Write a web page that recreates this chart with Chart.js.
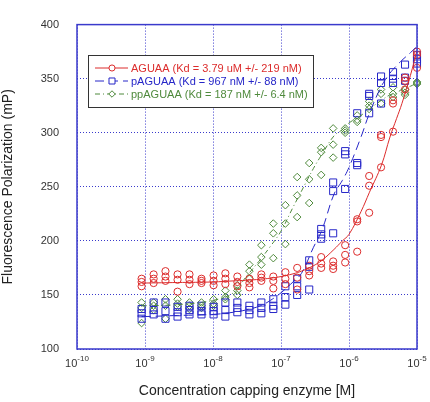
<!DOCTYPE html>
<html>
<head>
<meta charset="utf-8">
<script src="https://cdn.jsdelivr.net/npm/chart.js@4.4.0/dist/chart.umd.min.js"></script>
<style>
  html, body { margin: 0; padding: 0; background: #fff; }
  #wrap { width: 430px; height: 402px; }
</style>
</head>
<body>
<div id="wrap"><canvas id="chart" width="430" height="402"></canvas></div>
<script>
// concentrations [M], 1.5-fold dilution series
const conc = [8.91e-10, 1.34e-9, 2.00e-9, 3.01e-9, 4.51e-9, 6.77e-9, 1.02e-8, 1.52e-8,
              2.28e-8, 3.43e-8, 5.14e-8, 7.71e-8, 1.16e-7, 1.73e-7, 2.60e-7, 3.90e-7,
              5.85e-7, 8.78e-7, 1.32e-6, 1.98e-6, 2.96e-6, 4.44e-6, 6.67e-6, 1.00e-5];

// replicate readings (mP) for each concentration
const aguaa = [[165,162,158],[169,165,161],[172,167,163],[169,164,153],[169,164,160],[165,163,161],
               [168,163,159],[170,165,160],[167,162,158],[165,161,157],[169,166,163],[167,163,156],
               [171,165,160],[175,166,155],[177,172,168],[185,179,175],[181,177,174],[196,187,180],
               [220,218,190],[260,251,226],[298,296,268],[330,327,301],[351,348,340],[375,372,360]];
const paguaa = [[137,133,128],[143,136,132],[143,135,128],[139,134,130],[140,136,132],[140,135,132],
                [139,135,132],[143,136,130],[143,138,134],[140,136,132],[143,138,133],[146,140,137],
                [158,148,141],[165,158,150],[182,176,155],[211,206,202],[254,246,207],[283,280,248],
                [318,272,270],[336,334,318],[352,346,327],[356,350,346],[363,351,348],[372,368,364]];
const ppaguaa = [[143,138,124],[143,140,136],[146,140,128],[146,142,139],[143,140,137],[143,140,138],
                 [146,142,140],[154,148,146],[159,154,150],[178,172,165],[196,185,178],[216,207,184],
                 [233,216,197],[259,242,222],[272,257,235],[286,282,261],[304,289,277],[304,302,300],
                 [316,312,310],[329,325,322],[340,336,327],[342,336,333],[340,337,335],[347,346,345]];

// fitted curves
const fitConc = [8.9e-10, 1e-9, 3e-9, 1e-8, 2e-8, 3e-8, 5e-8, 7e-8, 1e-7, 1.5e-7, 2e-7, 3e-7,
                 4e-7, 6e-7, 8e-7, 1e-6, 1.5e-6, 2e-6, 3e-6, 4e-6, 5e-6, 6e-6, 8e-6, 1e-5];
const aguaaFit = [161, 161, 161.5, 162, 163, 163.5, 164.5, 165.5, 167, 169.5, 172, 177,
                  182, 192, 200, 206, 227, 245, 270, 296, 313, 327, 353, 376];
const paguaaFit = [130, 130, 131, 132, 134, 136, 140, 145, 152, 162, 170, 194,
                   210, 243, 256, 268, 296, 318, 343, 355, 362, 367, 374, 380];
const ppaguaaFit = [140, 140, 141, 145, 152, 166, 183, 195, 209, 231, 246, 267,
                    280, 297, 303, 309, 316, 322, 330, 335, 337, 340, 343, 346];

const legendLabels = ['AGUAA (Kd = 3.79 uM +/- 219 nM)',
                      'pAGUAA (Kd = 967 nM +/- 88 nM)',
                      'ppAGUAA (Kd = 187 nM +/- 6.4 nM)'];
const xDecades = [-10, -9, -8, -7, -6, -5];
const yTicks = [100, 150, 200, 250, 300, 350, 400];

const RED = '#dc2c2c';
const BLUE = '#2626c8';
const GREEN = '#4f8a3c';
const AXIS = '#3a3acc';
const FONT = "'Liberation Sans', Arial, sans-serif";

function points(reps) {
    const out = [];
    reps.forEach((r, i) => r.forEach(v => out.push({ x: conc[i], y: v })));
    return out;
}
function curve(ys) {
    return ys.map((v, i) => ({ x: fitConc[i], y: v }));
}

const series = [
    { label: legendLabels[0], color: RED, style: 'circle', radius: 3.6, dash: [], reps: aguaa, fit: aguaaFit },
    { label: legendLabels[1], color: BLUE, style: 'rect', radius: 5, dash: [9, 5], reps: paguaa, fit: paguaaFit },
    { label: legendLabels[2], color: GREEN, style: 'rectRot', radius: 3.8, dash: [5, 3, 1, 3], reps: ppaguaa, fit: ppaguaaFit }
];

const datasets = [];
series.forEach(s => {
    datasets.push({
        label: s.label + ' fit',
        data: curve(s.fit),
        showLine: true,
        borderColor: s.color,
        borderWidth: 1,
        borderDash: s.dash,
        pointRadius: 0,
        tension: 0.4,
        order: 1
    });
    datasets.push({
        label: s.label,
        data: points(s.reps),
        showLine: false,
        pointStyle: s.style,
        pointRadius: s.radius,
        pointBorderColor: s.color,
        pointBackgroundColor: 'rgba(0,0,0,0)',
        pointBorderWidth: 1,
        clip: false,
        order: 2
    });
});

function drawMarker(ctx, style, x, y, r) {
    ctx.beginPath();
    if (style === 'circle') {
        ctx.arc(x, y, r, 0, Math.PI * 2);
    } else if (style === 'rect') {
        const s = r * Math.SQRT1_2;
        ctx.rect(x - s, y - s, 2 * s, 2 * s);
    } else {
        ctx.moveTo(x - r, y); ctx.lineTo(x, y - r); ctx.lineTo(x + r, y); ctx.lineTo(x, y + r); ctx.closePath();
    }
    ctx.fillStyle = '#fff';
    ctx.fill();
    ctx.stroke();
}

const extras = {
    id: 'extras',
    afterDraw(chart) {
        const { ctx, chartArea: a, scales: { x } } = chart;
        ctx.save();

        // plot frame
        ctx.strokeStyle = AXIS;
        ctx.lineWidth = 1.5;
        ctx.setLineDash([]);
        ctx.strokeRect(a.left, a.top, a.right - a.left, a.bottom - a.top);

        // x tick labels 10^n
        ctx.fillStyle = '#333';
        ctx.textBaseline = 'alphabetic';
        ctx.textAlign = 'left';
        xDecades.forEach(e => {
            const px = x.getPixelForValue(Math.pow(10, e));
            ctx.font = '11px ' + FONT;
            const wb = ctx.measureText('10').width;
            ctx.font = '8px ' + FONT;
            const we = ctx.measureText(String(e)).width;
            const left = px - (wb + we) / 2;
            ctx.font = '11px ' + FONT;
            ctx.fillText('10', left, 367);
            ctx.font = '8px ' + FONT;
            ctx.fillText(String(e), left + wb, 361);
        });

        // legend box
        const bx = 88, by = 55, bw = 225, bh = 52;
        ctx.fillStyle = '#fff';
        ctx.fillRect(bx, by, bw, bh);
        ctx.strokeStyle = '#333';
        ctx.lineWidth = 1;
        ctx.strokeRect(bx + 0.5, by + 0.5, bw, bh);
        series.forEach((s, i) => {
            const ly = 68 + i * 13;
            ctx.strokeStyle = s.color;
            ctx.lineWidth = 1;
            ctx.setLineDash(s.dash);
            ctx.beginPath();
            ctx.moveTo(95, ly);
            ctx.lineTo(128, ly);
            ctx.stroke();
            ctx.setLineDash([]);
            drawMarker(ctx, s.style, 112, ly, s.radius * 0.85);
            ctx.fillStyle = s.color;
            ctx.font = '11px ' + FONT;
            ctx.textBaseline = 'middle';
            ctx.fillText(s.label, 131, ly + 1);
        });
        ctx.restore();
    }
};

new Chart(document.getElementById('chart'), {
    type: 'scatter',
    data: { datasets: datasets },
    plugins: [extras],
    options: {
        responsive: false,
        animation: false,
        layout: { padding: { left: 0, right: 13, top: 7, bottom: 0 } },
        plugins: { legend: { display: false }, tooltip: { enabled: false } },
        scales: {
            x: {
                type: 'logarithmic',
                min: 1e-10,
                max: 1e-5,
                afterBuildTicks: scale => { scale.ticks = xDecades.map(e => ({ value: Math.pow(10, e) })); },
                afterFit: scale => { scale.height = 53; },
                ticks: { display: false },
                grid: { color: AXIS, lineWidth: 1, drawTicks: false },
                border: { display: false, dash: [1, 2] },
                title: {
                    display: true,
                    text: 'Concentration capping enzyme [M]',
                    color: '#222',
                    font: { family: FONT, size: 14 },
                    padding: { top: 0, bottom: 2 }
                }
            },
            y: {
                min: 100,
                max: 400,
                afterBuildTicks: scale => { scale.ticks = yTicks.map(v => ({ value: v })); },
                afterFit: scale => { scale.width = 77; },
                ticks: { color: '#333', font: { family: FONT, size: 11 }, padding: 18 },
                grid: { color: AXIS, lineWidth: 1, drawTicks: false },
                border: { display: false, dash: [1, 2] },
                title: {
                    display: true,
                    text: 'Fluorescence Polarization (mP)',
                    color: '#222',
                    font: { family: FONT, size: 14 },
                    padding: { top: 0, bottom: 0 }
                }
            }
        }
    }
});
</script>
</body>
</html>
